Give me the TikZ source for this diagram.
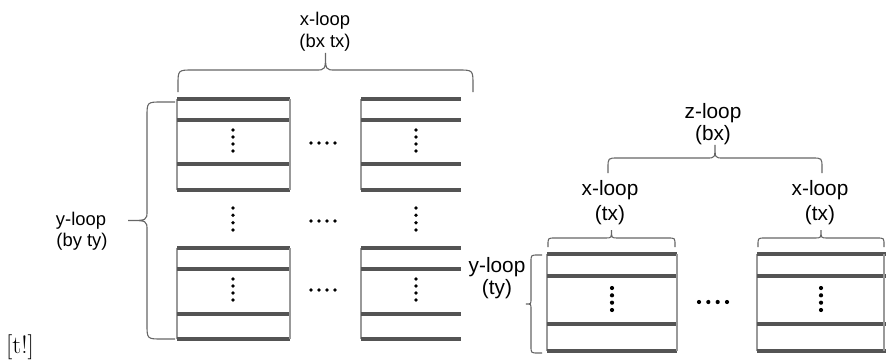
\documentclass[tikz,border=0pt]{standalone}
\usepackage{fontspec}
\newfontfamily\arialf{Liberation Sans}
\begin{document}
\begin{tikzpicture}[x=1pt,y=-1pt,
  bar/.style={draw=black!67,line width=3.6pt},
  side/.style={draw=black!40,line width=1.3pt},
  brc/.style={draw=black!60,line width=1.1pt},
  dotc/.style={fill=black,draw=none},
  lblA/.style={inner sep=0pt,anchor=base,font=\arialf\fontsize{18.4}{22}\selectfont},
  lblB/.style={inner sep=0pt,anchor=base,font=\arialf\fontsize{20.8}{24}\selectfont}]
\useasboundingbox (0,0) rectangle (893,361);
% horizontal brace: x1 x2 yb ym yt r rt
\newcommand\hbr[7]{%
  \draw[brc] (#1,#3) -- (#1,{#4+#6}) .. controls (#1,#4) .. ({#1+#6},#4)
    -- ({(#1+#2)/2-#7},#4) .. controls ({(#1+#2)/2},#4) .. ({(#1+#2)/2},#5)
    .. controls ({(#1+#2)/2},#4) .. ({(#1+#2)/2+#7},#4)
    -- ({#2-#6},#4) .. controls (#2,#4) .. (#2,{#4+#6}) -- (#2,#3);}
% vertical brace: y1 y2 xb xm xt r rt
\newcommand\vbr[7]{%
  \draw[brc] (#3,#1) -- ({#4+#6},#1) .. controls (#4,#1) .. (#4,{#1+#6})
    -- (#4,{(#1+#2)/2-#7}) .. controls (#4,{(#1+#2)/2}) .. (#5,{(#1+#2)/2})
    .. controls (#4,{(#1+#2)/2}) .. (#4,{(#1+#2)/2+#7})
    -- (#4,{#2-#6}) .. controls (#4,#2) .. ({#4+#6},#2) -- (#3,#2);}
% box: xl xr y1 y2 y3 y4
\newcommand\lbox[6]{%
  \draw[side] (#1,#3) -- (#1,#6);
  \draw[bar] (#1,#3) -- (#2,#3); \draw[bar] (#1,#4) -- (#2,#4);
  \draw[bar] (#1,#5) -- (#2,#5); \draw[bar] (#1,#6) -- (#2,#6);}
\newcommand\vdts[4]{% x ytop ybottom radius
  \foreach \k in {0,1,2,3} \fill[dotc] (#1,{#2+\k*(#3-#2)/3}) circle (#4);}
\newcommand\hdts[4]{% xleft xright y radius
  \foreach \k in {0,1,2,3} \fill[dotc] ({#1+\k*(#2-#1)/3},#3) circle (#4);}

% ---- left group ----
\lbox{177}{290}{99}{120}{164}{190}
\draw[side] (290,99) -- (290,190);
\lbox{361}{461}{99}{120}{164}{190}
\lbox{177}{290}{248}{269}{314}{339}
\draw[side] (290,248) -- (290,339);
\lbox{361}{461}{248}{269}{314}{339}
\vdts{233}{130}{151}{1.9}
\vdts{416}{130}{151}{1.9}
\hdts{311}{335}{143}{1.9}
\vdts{233}{208}{230}{1.9}
\vdts{416}{208}{230}{1.9}
\hdts{311}{335}{221}{1.9}
\vdts{233}{279}{300}{1.9}
\vdts{416}{279}{300}{1.9}
\hdts{311}{335}{290}{1.9}
\hbr{178}{473}{92}{70}{53}{15}{10}
\vbr{102}{339}{175}{147}{128}{15}{10}
\node[lblA] (xl1) at (325,26) {x-loop};
\node[lblA] (xl2) at (325,48) {(bx tx)};
\node[lblA] (yl1) at (81,225) {y-loop};
\node[lblA] (yl2) at (82,246) {(by ty)};

% ---- right group ----
\lbox{547}{677}{254}{276}{324}{351}
\draw[side] (677,254) -- (677,351);
\lbox{757}{886}{254}{276}{324}{351}
\draw[side] (884,254) -- (884,351);
\vdts{612}{288}{310}{2.1}
\vdts{821}{288}{310}{2.1}
\hdts{699}{727}{302}{2.1}
\hbr{608}{822}{173}{158}{145}{10}{8}
\hbr{548}{675}{247}{238}{230}{7}{6}
\hbr{758}{884}{247}{238}{230}{7}{6}
\vbr{255}{353}{542}{531}{526}{7}{5}
\node[lblB] (zl1) at (713,118) {z-loop};
\node[lblB] (zl2) at (713,140) {(bx)};
\node[lblB] (xa1) at (610,195) {x-loop};
\node[lblB] (xa2) at (610,220) {(tx)};
\node[lblB] (xb1) at (820,195) {x-loop};
\node[lblB] (xb2) at (820,220) {(tx)};
\node[lblB] (ya1) at (497,272) {y-loop};
\node[lblB] (ya2) at (497,294) {(ty)};

\node[inner sep=0pt,anchor=base west,font=\fontsize{25}{29}\selectfont] (pl) at (6,353) {[t!]};
\end{tikzpicture}
\end{document}
